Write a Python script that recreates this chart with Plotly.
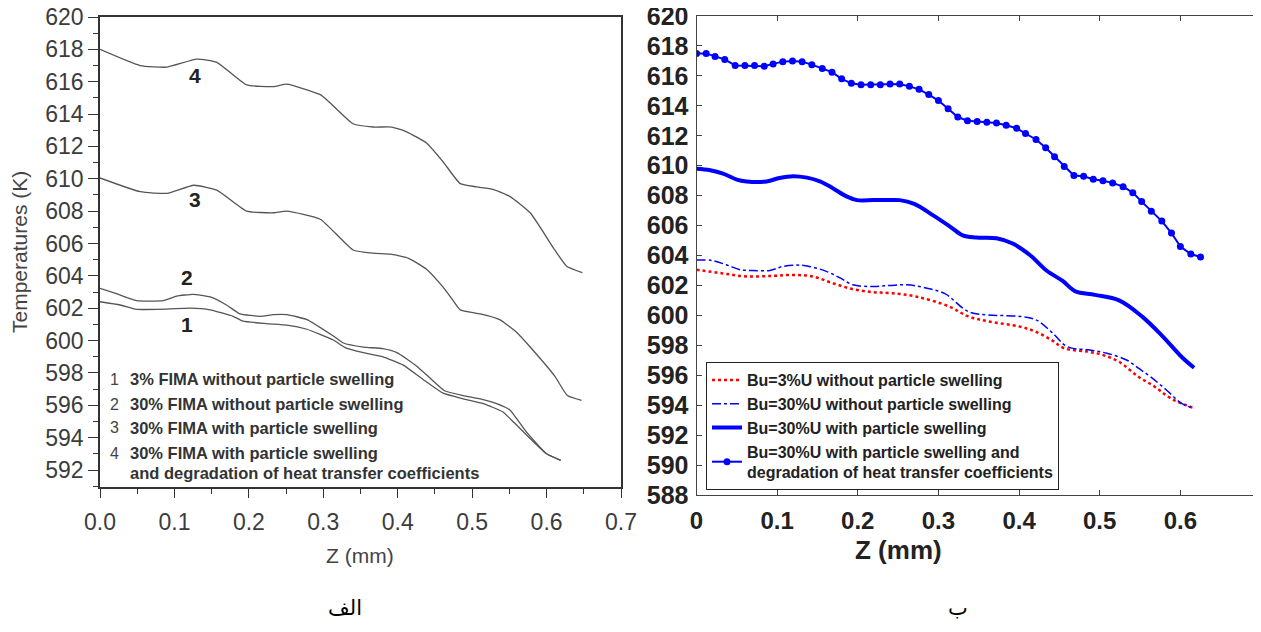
import plotly.graph_objects as go

W, H = 1261, 632
PAD = 8  # the page body keeps its default 8px margin

# ---- left panel (الف): four curves, Z (mm) vs temperature (K) ----
z_c1 = [0.0, 0.027, 0.049, 0.09, 0.121, 0.148, 0.179, 0.192, 0.224, 0.251, 0.278, 0.313,
        0.33, 0.354, 0.38, 0.407, 0.434, 0.461, 0.488, 0.515, 0.541, 0.557, 0.6, 0.619]
t_c1 = [602.4, 602.2, 601.93, 601.95, 602.0, 601.9, 601.5, 601.2, 601.05, 600.96, 600.7,
        600.05, 599.55, 599.25, 599.0, 598.5, 597.6, 596.75, 596.4, 596.1, 595.6, 594.9,
        593.0, 592.6]

z_c2 = [0.0, 0.022, 0.049, 0.085, 0.103, 0.125, 0.148, 0.17, 0.188, 0.215, 0.233, 0.251,
        0.278, 0.313, 0.327, 0.354, 0.38, 0.399, 0.426, 0.443, 0.463, 0.488, 0.511, 0.533,
        0.551, 0.572, 0.6, 0.619]
t_c2 = [603.23, 602.9, 602.47, 602.47, 602.75, 602.86, 602.7, 602.2, 601.65, 601.5, 601.6,
        601.6, 601.3, 600.3, 599.85, 599.6, 599.5, 599.25, 598.4, 597.7, 596.9, 596.6, 596.4,
        596.1, 595.7, 594.4, 593.0, 592.6]

z_c3 = [0.0, 0.054, 0.09, 0.126, 0.157, 0.197, 0.233, 0.251, 0.296, 0.34, 0.367, 0.39,
        0.414, 0.439, 0.461, 0.474, 0.484, 0.511, 0.537, 0.56, 0.578, 0.611, 0.628, 0.647]
t_c3 = [610.05, 609.2, 609.1, 609.6, 609.3, 608.0, 607.9, 608.0, 607.5, 605.6, 605.4,
        605.35, 605.1, 604.4, 603.3, 602.5, 601.9, 601.65, 601.3, 600.5, 599.6, 597.8,
        596.6, 596.3]

z_c4 = [0.0, 0.054, 0.09, 0.13, 0.157, 0.197, 0.233, 0.251, 0.296, 0.309, 0.34, 0.367,
        0.392, 0.412, 0.439, 0.461, 0.484, 0.506, 0.528, 0.551, 0.578, 0.611, 0.627, 0.648]
t_c4 = [618.0, 617.0, 616.9, 617.4, 617.2, 615.8, 615.7, 615.85, 615.2, 614.7, 613.4,
        613.2, 613.2, 612.9, 612.2, 611.05, 609.7, 609.5, 609.35, 608.9, 607.9, 605.6,
        604.6, 604.2]

left_names = ['1', '2', '3', '4']
left_legend = ['3% FIMA', '30% FIMA', '30% FIMA', '30% FIMA']
left_legend_rest = ['without particle swelling', 'without particle swelling',
                    'with particle swelling', 'with particle swelling']
left_legend_extra = 'and degradation of heat transfer coefficients'

# ---- right panel (ب) ----
z_a = [0.0, 0.033, 0.062, 0.095, 0.119, 0.144, 0.169, 0.194, 0.219, 0.243, 0.273, 0.313,
       0.337, 0.362, 0.401, 0.421, 0.44, 0.456, 0.485, 0.504, 0.524, 0.548, 0.568, 0.588, 0.617]
t_a = [603.05, 602.8, 602.6, 602.64, 602.7, 602.6, 602.15, 601.75, 601.55, 601.48, 601.25,
       600.6, 599.93, 599.6, 599.25, 598.9, 598.36, 597.8, 597.58, 597.35, 596.9, 595.9,
       595.24, 594.46, 593.8]

z_b = [0.0, 0.019, 0.037, 0.054, 0.07, 0.091, 0.107, 0.124, 0.14, 0.161, 0.178, 0.194,
       0.219, 0.24, 0.261, 0.283, 0.308, 0.337, 0.362, 0.401, 0.421, 0.44, 0.46, 0.485,
       0.509, 0.534, 0.548, 0.563, 0.583, 0.602, 0.617]
t_b = [603.7, 603.67, 603.38, 603.05, 603.0, 603.0, 603.27, 603.36, 603.27, 602.94, 602.5,
       602.04, 601.93, 602.0, 602.04, 601.85, 601.45, 600.25, 600.03, 599.93, 599.7, 598.9,
       597.9, 597.7, 597.47, 597.0, 596.47, 595.9, 595.0, 594.1, 593.8]

z_c = [0.0, 0.017, 0.033, 0.05, 0.062, 0.087, 0.103, 0.12, 0.137, 0.153, 0.169, 0.186,
       0.199, 0.219, 0.236, 0.252, 0.27, 0.293, 0.314, 0.33, 0.347, 0.372, 0.392, 0.413,
       0.434, 0.454, 0.47, 0.494, 0.524, 0.553, 0.578, 0.602, 0.617]
t_c = [609.8, 609.7, 609.47, 609.07, 608.95, 608.95, 609.18, 609.3, 609.2, 608.95, 608.5,
       607.95, 607.7, 607.7, 607.7, 607.7, 607.45, 606.7, 605.95, 605.35, 605.2, 605.15,
       604.8, 604.05, 603.0, 602.3, 601.6, 601.37, 601.0, 599.9, 598.6, 597.2, 596.5]

z_d = [0.0, 0.012, 0.023, 0.035, 0.048, 0.06, 0.072, 0.084, 0.095, 0.107, 0.119, 0.131,
       0.143, 0.156, 0.168, 0.18, 0.192, 0.204, 0.216, 0.228, 0.24, 0.252, 0.264, 0.276,
       0.288, 0.3, 0.312, 0.324, 0.336, 0.348, 0.36, 0.372, 0.384, 0.397, 0.408, 0.421,
       0.433, 0.444, 0.456, 0.468, 0.48, 0.492, 0.504, 0.516, 0.529, 0.541, 0.552, 0.564,
       0.577, 0.589, 0.6, 0.613, 0.625]
t_d = [617.5, 617.5, 617.3, 617.1, 616.7, 616.7, 616.7, 616.65, 616.8, 616.95, 617.0,
       616.95, 616.75, 616.5, 616.25, 615.8, 615.5, 615.4, 615.4, 615.4, 615.45, 615.45,
       615.3, 615.1, 614.75, 614.35, 613.8, 613.25, 613.0, 612.95, 612.9, 612.85, 612.7,
       612.5, 612.15, 611.75, 611.2, 610.6, 609.95, 609.35, 609.3, 609.1, 609.0, 608.85,
       608.6, 608.2, 607.6, 606.95, 606.3, 605.5, 604.6, 604.1, 603.9]

right_names = ['Bu=3%U without particle swelling',
               'Bu=30%U without particle swelling',
               'Bu=30%U with particle swelling',
               'Bu=30%U with particle swelling and<br>degradation of heat transfer coefficients']
right_xticks = [0, 0.1, 0.2, 0.3, 0.4, 0.5, 0.6]
panel_labels = ['الف', 'ب']

FW, FH = W - PAD, H - 2 * PAD


def px(x):
    # window pixel -> paper fraction
    return (x - PAD) / FW


def py(y):
    return 1 - (y - PAD) / FH


fig = go.Figure()

# left panel curves
for zz, tt in [(z_c1, t_c1), (z_c2, t_c2), (z_c3, t_c3), (z_c4, t_c4)]:
    fig.add_trace(go.Scatter(x=zz, y=tt, mode='lines', xaxis='x', yaxis='y',
                             line=dict(color='#555555', width=1.3, shape='spline', smoothing=0.45),
                             showlegend=False, hoverinfo='skip'))

# right panel curves
fig.add_trace(go.Scatter(x=z_a, y=t_a, mode='lines', xaxis='x2', yaxis='y2',
                         name='<b>' + right_names[0] + '</b>',
                         line=dict(color='#ff0000', width=2.5, dash='dot', shape='spline')))
fig.add_trace(go.Scatter(x=z_b, y=t_b, mode='lines', xaxis='x2', yaxis='y2',
                         name='<b>' + right_names[1] + '</b>',
                         line=dict(color='#0000ff', width=1.5, dash='dashdot', shape='spline')))
fig.add_trace(go.Scatter(x=z_c, y=t_c, mode='lines', xaxis='x2', yaxis='y2',
                         name='<b>' + right_names[2] + '</b>',
                         line=dict(color='#0000ff', width=4, shape='spline')))
fig.add_trace(go.Scatter(x=z_d, y=t_d, mode='lines+markers', xaxis='x2', yaxis='y2',
                         name='<b>' + right_names[3].replace('<br>', '</b><br><b>') + '</b>',
                         line=dict(color='#0000ff', width=2),
                         marker=dict(color='#0000ff', size=7)))

left_font = dict(family='Liberation Sans, Arial', size=23, color='#3c3c3c')


def note(x, y, text, font, **kw):
    d = dict(x=px(x), y=py(y), xref='paper', yref='paper', text=text, showarrow=False,
             xanchor='center', yanchor='middle', font=font)
    d.update(kw)
    return d


annotations = []
# curve numbers in the left panel
for name, (zx, ty) in zip(left_names, [(0.117, 601.0), (0.117, 603.9), (0.127, 608.7), (0.127, 616.4)]):
    annotations.append(dict(x=zx, y=ty, xref='x', yref='y', text='<b>' + name + '</b>',
                            showarrow=False, xanchor='center', yanchor='middle',
                            font=dict(family='Liberation Sans, Arial', size=21, color='#222')))

# left in-plot legend text
leg_y = [379, 404, 428, 453]
num_font = dict(family='Liberation Sans, Arial', size=16, color='#444')
txt_font = dict(family='Liberation Sans, Arial', size=16.5, color='#333')
for i in range(4):
    annotations.append(note(108, leg_y[i], left_names[i], num_font, xanchor='left'))
    annotations.append(note(128, leg_y[i], '<b>' + left_legend[i] + ' ' + left_legend_rest[i] + '</b>',
                            txt_font, xanchor='left'))
annotations.append(note(128, 473, '<b>' + left_legend_extra + '</b>', txt_font, xanchor='left'))

# axis titles
annotations.append(note(20, 252, 'Temperatures (K)',
                        dict(family='Liberation Sans, Arial', size=21, color='#444'), textangle=-90))
annotations.append(note(360, 555, 'Z (mm)', dict(family='Liberation Sans, Arial', size=21, color='#444')))
annotations.append(note(898, 550, '<b>Z (mm)</b>', dict(family='Liberation Sans, Arial', size=26, color='#222')))

# panel captions
cap_font = dict(family='DejaVu Sans', size=21, color='black')
annotations.append(note(345, 622, panel_labels[0], cap_font, yanchor='bottom'))
annotations.append(note(958, 622, panel_labels[1], cap_font, yanchor='bottom'))

fig.update_layout(
    width=FW, height=FH,
    margin=dict(l=0, r=0, t=0, b=0, autoexpand=False),
    paper_bgcolor='white', plot_bgcolor='white',
    xaxis=dict(domain=[px(100), px(621)], range=[0, 0.7], dtick=0.1, tickformat='.1f',
               showline=True, linecolor='#333', linewidth=1.5, mirror=True,
               ticks='outside', ticklen=9, tickcolor='#333', tickfont=left_font,
               ticklabelstandoff=5, automargin=False, ticklabeloverflow='allow',
               minor=dict(dtick=0.05, ticks='outside', ticklen=5, tickcolor='#333'),
               showgrid=False, zeroline=False, anchor='y'),
    yaxis=dict(domain=[py(487), py(17)], range=[590.95, 620], dtick=2,
               showline=True, linecolor='#333', linewidth=1.5, mirror=True,
               ticks='outside', ticklen=10, tickcolor='#333', tickfont=left_font,
               automargin=False, ticklabeloverflow='allow',
               minor=dict(dtick=1, ticks='outside', ticklen=5, tickcolor='#333'),
               showgrid=False, zeroline=False, anchor='x'),
    xaxis2=dict(domain=[px(696.5), 1.0], range=[0, 0.7], tickvals=right_xticks,
                showline=True, linecolor='#444', linewidth=1, mirror='ticks',
                ticks='inside', ticklen=5, tickcolor='#444',
                tickfont=dict(family='Liberation Sans, Arial', size=24, color='#222', weight='bold'),
                ticklabelstandoff=4, automargin=False, ticklabeloverflow='allow',
                showgrid=False, zeroline=False, anchor='y2'),
    yaxis2=dict(domain=[py(495), py(16)], range=[588, 620], dtick=2,
                showline=True, linecolor='#444', linewidth=1, mirror='ticks',
                ticks='inside', ticklen=5, tickcolor='#444',
                tickfont=dict(family='Liberation Sans, Arial', size=25, color='#222', weight='bold'),
                ticklabelstandoff=2, automargin=False, ticklabeloverflow='allow',
                showgrid=False, zeroline=False, anchor='x2'),
    legend=dict(x=px(706), y=py(362), xanchor='left', yanchor='top',
                bgcolor='white', bordercolor='#222', borderwidth=1,
                font=dict(family='Liberation Sans, Arial', size=16, color='#222'),
                tracegroupgap=0),
    annotations=annotations,
)

fig.write_html("out.html")
